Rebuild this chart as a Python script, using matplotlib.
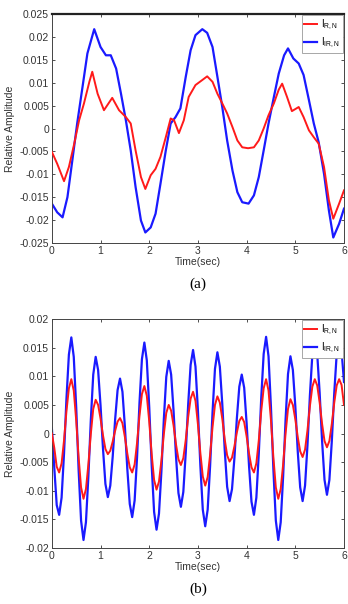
import numpy as np
import matplotlib
matplotlib.use('Agg')
import matplotlib.pyplot as plt

plt.rcParams['font.family'] = ['Liberation Sans', 'DejaVu Sans']
plt.rcParams['axes.unicode_minus'] = False
plt.rcParams['mathtext.fontset'] = 'custom'
plt.rcParams['mathtext.rm'] = 'Liberation Sans'

# ---- panel (a) ----
t_red_a = [0.0, 0.11, 0.25, 0.35, 0.46, 0.56, 0.66, 0.77, 0.83, 0.94, 1.07, 1.24,
           1.38, 1.52, 1.62, 1.72, 1.83, 1.92, 2.03, 2.13, 2.23, 2.34, 2.44, 2.51,
           2.61, 2.71, 2.81, 2.95, 3.09, 3.19, 3.30, 3.40, 3.50, 3.60, 3.71, 3.81,
           3.91, 4.03, 4.15, 4.25, 4.35, 4.45, 4.56, 4.66, 4.73, 4.83, 4.93, 5.07,
           5.17, 5.28, 5.38, 5.48, 5.59, 5.69, 5.78, 5.90, 6.0]
red_a = [-0.0051, -0.0077, -0.0115, -0.0084, -0.0033, 0.0018, 0.0055, 0.0102, 0.0124,
         0.0076, 0.0040, 0.0067, 0.0040, 0.0025, 0.0011, -0.0048, -0.0106, -0.0132,
         -0.0102, -0.0088, -0.0062, -0.0019, 0.0022, 0.0018, -0.0010, 0.0018, 0.0069,
         0.0095, 0.0106, 0.0114, 0.0102, 0.0076, 0.0055, 0.0033, 0.0003, -0.0026,
         -0.0041, -0.0043, -0.0041, -0.0026, 0.0000, 0.0029, 0.0055, 0.0085, 0.0098,
         0.0069, 0.0038, 0.0047, 0.0025, -0.0004, -0.0019, -0.0033, -0.0084, -0.0157,
         -0.0197, -0.0164, -0.0135]

t_blue_a = [0.0, 0.11, 0.22, 0.32, 0.42, 0.52, 0.63, 0.73, 0.87, 1.00, 1.11, 1.21,
            1.32, 1.42, 1.52, 1.62, 1.72, 1.83, 1.92, 2.03, 2.13, 2.23, 2.34, 2.44,
            2.54, 2.64, 2.75, 2.85, 2.95, 3.09, 3.19, 3.30, 3.40, 3.50, 3.60, 3.71,
            3.81, 3.91, 4.04, 4.15, 4.25, 4.35, 4.45, 4.56, 4.66, 4.77, 4.85, 4.96,
            5.07, 5.17, 5.28, 5.38, 5.48, 5.59, 5.69, 5.78, 5.90, 6.0]
blue_a = [-0.0164, -0.0183, -0.0194, -0.0150, -0.0070, 0.0011, 0.0091, 0.0164, 0.0217,
          0.0178, 0.0160, 0.0160, 0.0131, 0.0076, 0.0018, -0.0048, -0.0128, -0.0201,
          -0.0227, -0.0216, -0.0186, -0.0121, -0.0048, 0.0011, 0.0025, 0.0044, 0.0113,
          0.0171, 0.0204, 0.0217, 0.0209, 0.0178, 0.0113, 0.0047, -0.0026, -0.0092,
          -0.0139, -0.0161, -0.0164, -0.0146, -0.0106, -0.0048, 0.0011, 0.0069, 0.0120,
          0.0160, 0.0175, 0.0153, 0.0142, 0.0117, 0.0062, 0.0011, -0.0030, -0.0099,
          -0.0179, -0.0238, -0.0208, -0.0175]

# ---- panel (b) ----  (sampled every 0.05 s)
t_b = np.round(np.arange(0, 6.0001, 0.05), 2)
red_b = [0.0, -0.0025, -0.0058, -0.0068,
         -0.0052, -0.0012, 0.0039, 0.0079, 0.0095,
         0.0075, 0.0023, -0.0042, -0.0094, -0.0114,
         -0.0097, -0.0054, -0.0001, 0.0043, 0.0059,
         0.0050, 0.0026, -0.0003, -0.0027, -0.0036,
         -0.0030, -0.0014, 0.0005, 0.0021, 0.0027,
         0.0018, -0.0006, -0.0035, -0.0059, -0.0068,
         -0.0054, -0.0016, 0.0031, 0.0069, 0.0083,
         0.0066, 0.0021, -0.0036, -0.0081, -0.0098,
         -0.0084, -0.0047, -0.0001, 0.0036, 0.0050,
         0.0040, 0.0014, -0.0019, -0.0045, -0.0055,
         -0.0043, -0.0011, 0.0029, 0.0061, 0.0073,
         0.0057, 0.0016, -0.0034, -0.0075, -0.0091,
         -0.0076, -0.0037, 0.0011, 0.0050, 0.0065,
         0.0054, 0.0026, -0.0010, -0.0038, -0.0049,
         -0.0042, -0.0022, 0.0002, 0.0022, 0.0029,
         0.0020, -0.0005, -0.0035, -0.0059, -0.0068,
         -0.0052, -0.0012, 0.0039, 0.0079, 0.0095,
         0.0075, 0.0023, -0.0042, -0.0094, -0.0114,
         -0.0097, -0.0054, 0.0000, 0.0043, 0.0060,
         0.0050, 0.0025, -0.0006, -0.0031, -0.0041,
         -0.0028, 0.0006, 0.0048, 0.0082, 0.0095,
         0.0084, 0.0054, 0.0017, -0.0013, -0.0024,
         -0.0013, 0.0017, 0.0054, 0.0084, 0.0095,
         0.0085, 0.0050]
blue_b = [0.0010, -0.0060, -0.0125, -0.0142,
          -0.0112, -0.0035, 0.0061, 0.0138, 0.0168,
          0.0134, 0.0046, -0.0064, -0.0152, -0.0186,
          -0.0155, -0.0075, 0.0023, 0.0103, 0.0134,
          0.0111, 0.0049, -0.0026, -0.0088, -0.0111,
          -0.0091, -0.0040, 0.0025, 0.0076, 0.0096,
          0.0073, 0.0012, -0.0062, -0.0123, -0.0146,
          -0.0117, -0.0041, 0.0054, 0.0130, 0.0159,
          0.0128, 0.0046, -0.0055, -0.0137, -0.0168,
          -0.0140, -0.0066, 0.0025, 0.0099, 0.0127,
          0.0103, 0.0039, -0.0040, -0.0104, -0.0128,
          -0.0102, -0.0033, 0.0051, 0.0120, 0.0146,
          0.0117, 0.0040, -0.0056, -0.0133, -0.0162,
          -0.0133, -0.0057, 0.0037, 0.0113, 0.0142,
          0.0117, 0.0052, -0.0028, -0.0093, -0.0118,
          -0.0097, -0.0042, 0.0027, 0.0082, 0.0103,
          0.0080, 0.0018, -0.0057, -0.0119, -0.0142,
          -0.0112, -0.0035, 0.0062, 0.0139, 0.0169,
          0.0135, 0.0046, -0.0063, -0.0152, -0.0186,
          -0.0155, -0.0075, 0.0024, 0.0104, 0.0135,
          0.0111, 0.0048, -0.0031, -0.0094, -0.0118,
          -0.0091, -0.0020, 0.0067, 0.0138, 0.0165,
          0.0139, 0.0071, -0.0013, -0.0081, -0.0107,
          -0.0081, -0.0013, 0.0071, 0.0139, 0.0165,
          0.0145, 0.0090]

x_ticks = [0, 1, 2, 3, 4, 5, 6]
y_ticks_a = [-0.025, -0.02, -0.015, -0.01, -0.005, 0, 0.005, 0.01, 0.015, 0.02, 0.025]
y_labels_a = ['-0.025', '-0.02', '-0.015', '-0.01', '-0.005', '0', '0.005', '0.01',
              '0.015', '0.02', '0.025']
y_ticks_b = [-0.02, -0.015, -0.01, -0.005, 0, 0.005, 0.01, 0.015, 0.02]
y_labels_b = ['-0.02', '-0.015', '-0.01', '-0.005', '0', '0.005', '0.01', '0.015', '0.02']
labels = [r'$\mathrm{I}_{\mathrm{R,N}}$', r'$\mathrm{I}_{\mathrm{IR,N}}$']

fig = plt.figure(figsize=(3.48, 6.04), dpi=100)
ax_a = fig.add_axes([0.149, 0.5977, 0.8395, 0.379])
ax_b = fig.add_axes([0.149, 0.0927, 0.8395, 0.379])

panels = [(ax_a, t_red_a, red_a, t_blue_a, blue_a, y_ticks_a, y_labels_a, '(a)'),
          (ax_b, t_b, red_b, t_b, blue_b, y_ticks_b, y_labels_b, '(b)')]

for ax, tr, r, tb, b, yt, yl, cap in panels:
    # red drawn on top of blue, as in the original
    ax.plot(tr, r, color='#ff1a1a', lw=1.4, label=labels[0], zorder=3,
            solid_joinstyle='round')
    ax.plot(tb, b, color='#1a1aff', lw=1.6, label=labels[1], zorder=2,
            solid_joinstyle='round')
    ax.set_xlim(0, 6)
    ax.set_ylim(yt[0], yt[-1])
    ax.set_xticks(x_ticks)
    ax.set_xticklabels([str(v) for v in x_ticks])
    ax.set_yticks(yt)
    ax.set_yticklabels(yl)
    ax.tick_params(direction='in', top=True, right=True, length=2.5, width=0.6,
                   labelsize=7.5, colors='#333333', pad=2)
    for s in ax.spines.values():
        s.set_linewidth(0.7)
        s.set_color('#444444')
    ax.set_xlabel('Time(sec)', fontsize=7.5, color='#333333', labelpad=1)
    ax.set_ylabel('Relative Amplitude', fontsize=7.5, color='#333333', labelpad=3)
    leg = ax.legend(loc='upper right', fontsize=7, handlelength=1.3,
                    handletextpad=0.4, borderpad=0.3, labelspacing=0.4,
                    borderaxespad=0.1, fancybox=False, framealpha=1)
    leg.get_frame().set_edgecolor('#999999')
    leg.get_frame().set_linewidth(0.6)
    ax.text(0.5, -0.18, cap, transform=ax.transAxes, ha='center', va='center',
            fontsize=11, family='Liberation Serif')

ax_a.spines['top'].set_linewidth(1.6)
ax_a.spines['top'].set_color('#222222')

fig.savefig('out.png', dpi=100)
